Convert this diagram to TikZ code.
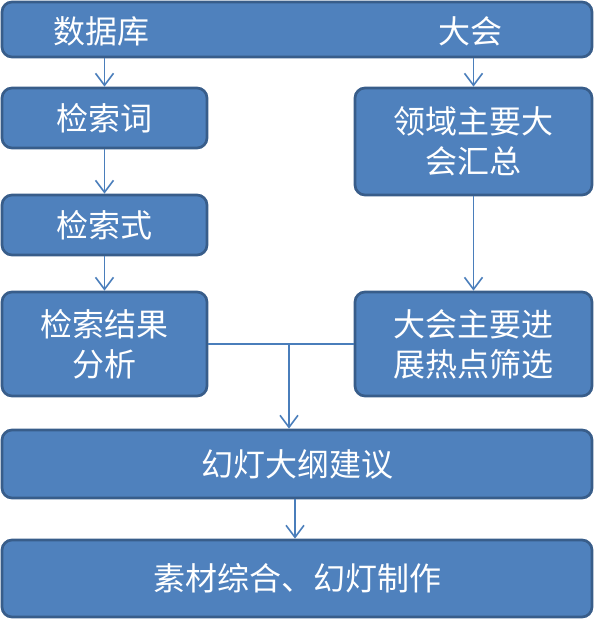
\documentclass[tikz,border=0pt]{standalone}
\usepackage{fontspec}
\setmainfont{Noto Sans CJK SC}
\usetikzlibrary{arrows.meta}
\definecolor{boxfill}{HTML}{4F81BD}
\definecolor{boxline}{HTML}{385D8A}
\definecolor{arrline}{HTML}{4A7EBB}
\tikzset{
  box/.style={draw=boxline,fill=boxfill,line width=2.7pt,rounded corners=10pt,
    text=white,align=center,inner sep=0pt,font=\fontsize{32}{40}\selectfont},
  txt/.style={text=white,inner sep=0pt,font=\fontsize{32}{40}\selectfont},
  link/.style={draw=arrline,line width=1.6pt},
  flow/.style={link,-{Straight Barb[length=12pt,width=18pt]}}
}

\begin{document}
\begin{tikzpicture}[x=1pt,y=-1pt]
\useasboundingbox (0,0) rectangle (594,620);
% top bar
\node[box,minimum width=590,minimum height=55] (top) at (297,29.5) {};
\node[txt] (db) at (101,31) {数据库};
\node[txt] (conf) at (470,31) {大会};
% left column
\node[box,minimum width=205,minimum height=60] (word) at (104.5,118) {检索词};
\node[box,minimum width=205,minimum height=60] (query) at (104.5,225) {检索式};
\node[box,minimum width=205,minimum height=104] (result) at (104.5,344) {检索结果\\分析};
% right column
\node[box,minimum width=237,minimum height=107] (meet) at (473.5,141.5) {领域主要大\\会汇总};
\node[box,minimum width=237,minimum height=104] (hot) at (473.5,344) {大会主要进\\展热点筛选};
% bottom
\node[box,minimum width=590,minimum height=68] (outline) at (297,464) {幻灯大纲建议};
\node[box,minimum width=590,minimum height=77] (final) at (297,578.5) {素材综合、幻灯制作};
% connectors
\draw[flow] (word.north |- top.south) -- (word.north);
\draw[flow] (word) -- (query);
\draw[flow] (query) -- (result);
\draw[flow] (meet.north |- top.south) -- (meet.north);
\draw[flow] (meet) -- (hot);
\draw[link] (result.east) -- (hot.west);
\coordinate (join) at (289,345);
\draw[flow] (join) -- (join |- outline.north);
\draw[flow] (295,0 |- outline.south) -- (295,0 |- final.north);
\end{tikzpicture}
\end{document}
